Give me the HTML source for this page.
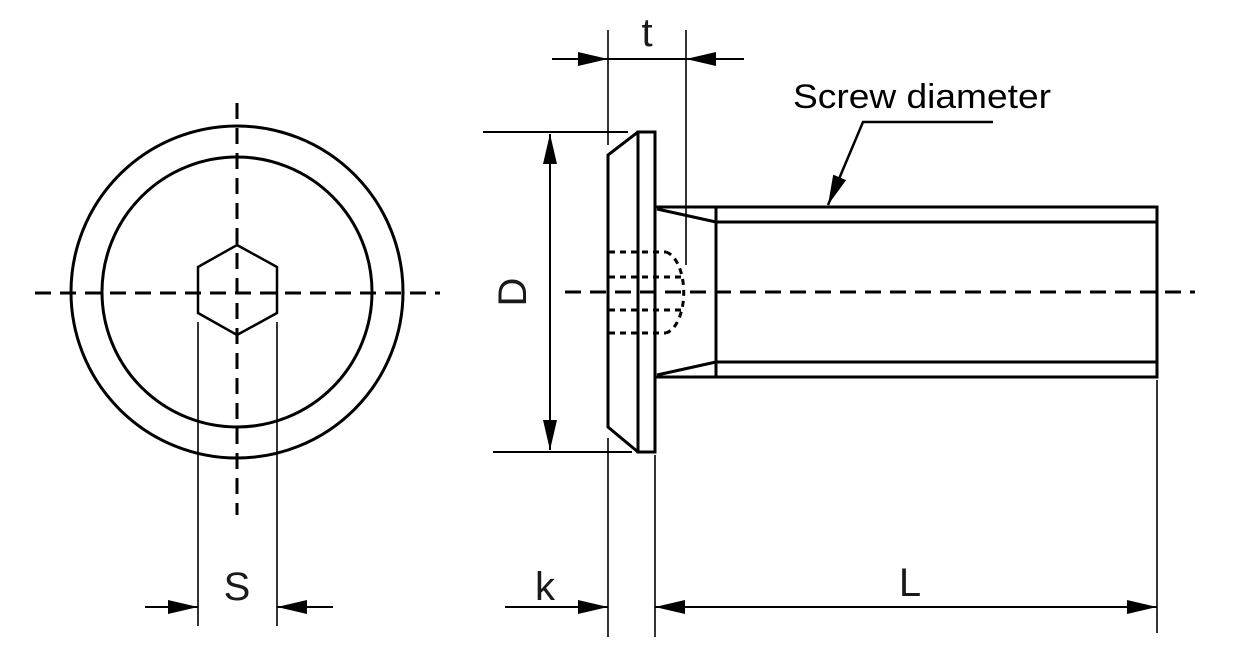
<!DOCTYPE html>
<html><head><meta charset="utf-8"><style>html,body{margin:0;padding:0;background:#fff}svg{display:block}</style></head>
<body>
<svg width="1233" height="665" viewBox="0 0 1233 665" xmlns="http://www.w3.org/2000/svg">
<defs>
<marker id="b" viewBox="0 0 30 14" refX="30" refY="7" markerWidth="30" markerHeight="14" markerUnits="userSpaceOnUse" orient="auto-start-reverse">
<path d="M0,0 L30,7 L0,14 z" fill="#000"/></marker>
</defs>
<g fill="none" stroke="#000" stroke-width="3">
<circle cx="237" cy="292" r="166"/>
<circle cx="237" cy="292" r="135"/>
<polygon points="237,245 277,267 277,313 237,335 198,313 198,267" stroke-width="2.5"/>
<line x1="35" y1="293" x2="440" y2="293" stroke-dasharray="16,9"/>
<line x1="237" y1="103" x2="237" y2="515" stroke-dasharray="16,9"/>
<line x1="198" y1="322" x2="198" y2="626" stroke-width="1.6"/>
<line x1="277" y1="322" x2="277" y2="626" stroke-width="1.6"/>
<line x1="145" y1="607" x2="198" y2="607" stroke-width="2" marker-end="url(#b)"/>
<line x1="333" y1="607" x2="277" y2="607" stroke-width="2" marker-end="url(#b)"/>
<rect x="638" y="132" width="17" height="320"/>
<polyline points="638,132 608,155 608,427 638,452"/>
<polyline points="655,207 1157,207 1157,377 655,377"/>
<line x1="716" y1="222" x2="1157" y2="222"/>
<line x1="716" y1="362" x2="1157" y2="362"/>
<line x1="716" y1="207" x2="716" y2="377"/>
<line x1="657" y1="209" x2="716" y2="222"/>
<line x1="657" y1="375" x2="716" y2="362"/>
<g stroke-dasharray="6,5" stroke-width="3">
<line x1="609" y1="252" x2="666" y2="252"/>
<line x1="609" y1="277" x2="684" y2="277"/>
<line x1="609" y1="310" x2="684" y2="310"/>
<line x1="609" y1="333" x2="666" y2="333"/>
<path d="M666,252 A21,41 0 0 1 666,333"/>
</g>
<line x1="565" y1="292" x2="1195" y2="292" stroke-dasharray="16,9"/>
<line x1="608" y1="30" x2="608" y2="145" stroke-width="1.6"/>
<line x1="686" y1="30" x2="686" y2="265" stroke-width="1.6"/>
<line x1="552" y1="59" x2="608" y2="59" stroke-width="2" marker-end="url(#b)"/>
<line x1="744" y1="59" x2="686" y2="59" stroke-width="2" marker-end="url(#b)"/>
<line x1="608" y1="59" x2="686" y2="59" stroke-width="2"/>
<line x1="483" y1="132" x2="628" y2="132" stroke-width="2"/>
<line x1="493" y1="452" x2="632" y2="452" stroke-width="2"/>
<line x1="550" y1="134" x2="550" y2="450" stroke-width="2" marker-start="url(#b)" marker-end="url(#b)"/>
<line x1="608" y1="438" x2="608" y2="637" stroke-width="1.6"/>
<line x1="655" y1="455" x2="655" y2="637" stroke-width="1.6"/>
<line x1="1157" y1="380" x2="1157" y2="633" stroke-width="1.6"/>
<line x1="505" y1="607" x2="608" y2="607" stroke-width="2" marker-end="url(#b)"/>
<line x1="655" y1="607" x2="1157" y2="607" stroke-width="2" marker-start="url(#b)" marker-end="url(#b)"/>
<polyline points="993,122 863,122 828,205" stroke-width="2.5" marker-end="url(#b)"/>
</g>
<g font-family="Liberation Sans, sans-serif" fill="#1a1a1a">
<text x="237" y="600" font-size="40" text-anchor="middle">S</text>
<text x="647" y="46" font-size="40" text-anchor="middle">t</text>
<text x="545" y="600" font-size="40" text-anchor="middle">k</text>
<text x="910" y="596" font-size="40" text-anchor="middle">L</text>
<text transform="translate(526,292) rotate(-90)" font-size="40" text-anchor="middle">D</text>
<text x="793" y="108" font-size="34" textLength="258" lengthAdjust="spacingAndGlyphs" fill="#000">Screw diameter</text>
</g>
</svg>
</body></html>
